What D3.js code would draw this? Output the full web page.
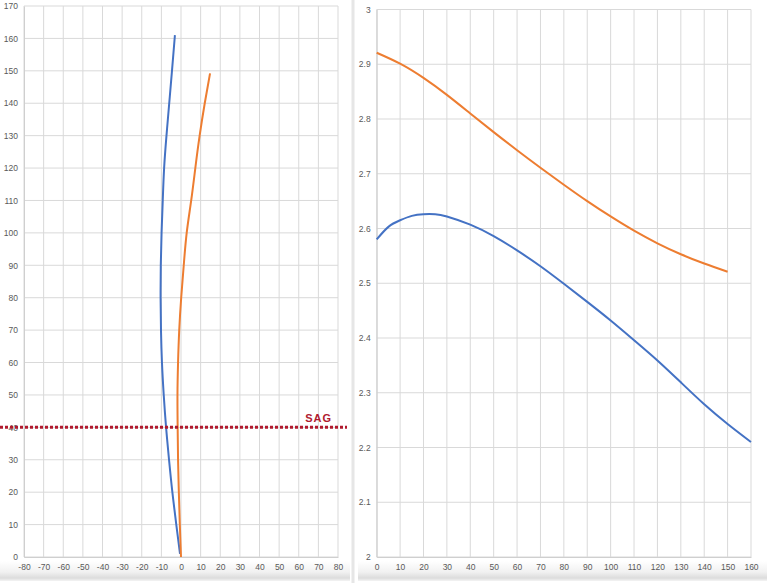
<!DOCTYPE html>
<html><head><meta charset="utf-8">
<script src="https://cdn.jsdelivr.net/npm/d3@7/dist/d3.min.js"></script>
<style>
html,body{margin:0;padding:0;background:#fff;}
svg{display:block;}
text{font-family:"Liberation Sans","DejaVu Sans",sans-serif;}
</style></head>
<body>
<svg id="chart" width="767" height="583"></svg>
<script>
// ---- Left panel data (x = lateral offset, y = height) ----
const leftXTicks = [-80,-70,-60,-50,-40,-30,-20,-10,0,10,20,30,40,50,60,70,80];
const leftYTicks = [0,10,20,30,40,50,60,70,80,90,100,110,120,130,140,150,160,170];
const leftBlueX = [-0.5,-2.4,-4.4,-6.1,-7.6,-8.8,-9.7,-10.2,-10.4,-10.3,-9.9,-9.3,-8.6,-7.4,-6.0,-4.6,-3.1];
const leftBlueY = [1,10,20,30,40,50,60,70,80,90,100,110,120,130,140,150,161];
const leftOrangeX = [0,-0.6,-1.1,-1.5,-1.7,-1.8,-1.5,-0.9,0.1,1.4,2.9,5.2,7.3,9.5,12.1,14.8];
const leftOrangeY = [0,10,20,30,40,50,60,70,80,90,100,110,120,130,140,149.2];
const sagValue = 40;
const sagLabel = "SAG";

// ---- Right panel data ----
const rightXTicks = [0,10,20,30,40,50,60,70,80,90,100,110,120,130,140,150,160];
const rightYTicks = [2,2.1,2.2,2.3,2.4,2.5,2.6,2.7,2.8,2.9,3];
const rightOrangeX = [0,10,20,30,40,50,60,70,80,90,100,110,120,130,140,150];
const rightOrangeV = [2.921,2.901,2.875,2.844,2.810,2.776,2.743,2.711,2.680,2.650,2.622,2.596,2.573,2.553,2.536,2.521];
const rightBlueX = [0,5,10,15,20,25,30,40,50,60,70,80,90,100,110,120,130,140,150,160];
const rightBlueV = [2.580,2.603,2.615,2.623,2.626,2.626,2.622,2.607,2.586,2.560,2.531,2.499,2.466,2.432,2.396,2.359,2.319,2.279,2.243,2.210];

const BLUE = "#4472c4", ORANGE = "#ed7d31", GRID = "#d9d9d9", LABEL = "#595959", SAGC = "#b01a2e";

const svg = d3.select("#chart");
const defs = svg.append("defs");
const grad = defs.append("linearGradient").attr("id","band").attr("x1",0).attr("y1",0).attr("x2",0).attr("y2",1);
grad.append("stop").attr("offset","0%").attr("stop-color","#ffffff");
grad.append("stop").attr("offset","55%").attr("stop-color","#f1f1f1");
grad.append("stop").attr("offset","85%").attr("stop-color","#dcdcdc");
grad.append("stop").attr("offset","100%").attr("stop-color","#f4f4f4");

// bottom label bands
svg.append("rect").attr("x",0).attr("y",561).attr("width",350).attr("height",20).attr("fill","url(#band)");
svg.append("rect").attr("x",358).attr("y",561).attr("width",409).attr("height",20).attr("fill","url(#band)");
// separator
svg.append("line").attr("x1",353).attr("x2",353).attr("y1",0).attr("y2",583).attr("stroke","#e6e6e6").attr("stroke-width",3);

function panel(g, xs, ys, xTicks, yTicks, yFmt) {
  g.append("g").selectAll("line").data(xTicks).join("line")
    .attr("x1",d=>xs(d)).attr("x2",d=>xs(d))
    .attr("y1",ys.range()[1]).attr("y2",ys.range()[0])
    .attr("stroke",GRID).attr("stroke-width",1);
  g.append("g").selectAll("line").data(yTicks).join("line")
    .attr("x1",xs.range()[0]).attr("x2",xs.range()[1])
    .attr("y1",d=>ys(d)).attr("y2",d=>ys(d))
    .attr("stroke",GRID).attr("stroke-width",1);
  const xa = d3.axisBottom(xs).tickValues(xTicks).tickSize(0).tickPadding(7).tickFormat(d=>d);
  const ya = d3.axisLeft(ys).tickValues(yTicks).tickSize(0).tickPadding(6).tickFormat(yFmt);
  const gx = g.append("g").attr("transform",`translate(0,${ys.range()[0]})`).call(xa);
  const gy = g.append("g").attr("transform",`translate(${xs.range()[0]},0)`).call(ya);
  [gx,gy].forEach(a=>{
    a.select(".domain").attr("stroke","#cfcfcf");
    a.selectAll("text").attr("fill",LABEL).attr("font-size","8.5px");
  });
}

// ---- Left panel ----
const lx = d3.scaleLinear().domain([-80,80]).range([24,338]);
const ly = d3.scaleLinear().domain([0,170]).range([557,6]);
const gl = svg.append("g");
panel(gl, lx, ly, leftXTicks, leftYTicks, d=>d);

const lineXY = d3.line().x(d=>lx(d[0])).y(d=>ly(d[1])).curve(d3.curveNatural);
gl.append("path").datum(d3.zip(leftBlueX,leftBlueY)).attr("d",lineXY)
  .attr("fill","none").attr("stroke",BLUE).attr("stroke-width",2);
gl.append("path").datum(d3.zip(leftOrangeX,leftOrangeY)).attr("d",lineXY)
  .attr("fill","none").attr("stroke",ORANGE).attr("stroke-width",2);

// SAG line
gl.append("line").attr("x1",0).attr("x2",347).attr("y1",ly(sagValue)).attr("y2",ly(sagValue))
  .attr("stroke",SAGC).attr("stroke-width",3).attr("stroke-dasharray","3,2");
gl.append("text").attr("x",332).attr("y",ly(sagValue)-5).attr("text-anchor","end")
  .attr("fill",SAGC).attr("font-weight","bold").attr("font-size","11px").attr("letter-spacing","1px")
  .text(sagLabel);

// ---- Right panel ----
const rx = d3.scaleLinear().domain([0,160]).range([376.7,751]);
const ry = d3.scaleLinear().domain([2,3]).range([557,9.5]);
const gr = svg.append("g");
panel(gr, rx, ry, rightXTicks, rightYTicks, d=>(d===2||d===3)?d3.format("d")(d):d3.format(".1f")(d));

const lineR = d3.line().x(d=>rx(d[0])).y(d=>ry(d[1])).curve(d3.curveNatural);
gr.append("path").datum(d3.zip(rightOrangeX,rightOrangeV)).attr("d",lineR)
  .attr("fill","none").attr("stroke",ORANGE).attr("stroke-width",2);
gr.append("path").datum(d3.zip(rightBlueX,rightBlueV)).attr("d",lineR)
  .attr("fill","none").attr("stroke",BLUE).attr("stroke-width",2);
</script>
</body></html>
